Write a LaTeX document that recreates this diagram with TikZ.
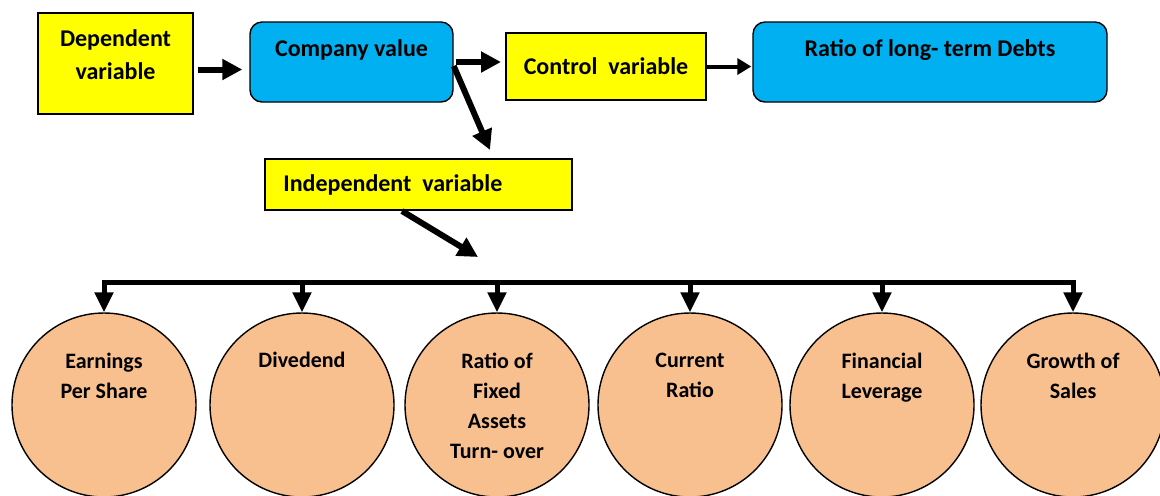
\documentclass[tikz,border=0pt]{standalone}
\usepackage{fontspec}
\setmainfont{Carlito}
\usetikzlibrary{arrows.meta}

\definecolor{skyblue}{HTML}{00B0F0}
\definecolor{peach}{HTML}{F8BF8F}
\definecolor{boxyellow}{HTML}{FFFF00}

\begin{document}
\begin{tikzpicture}[x=0.5pt,y=-0.5pt,
  ybox/.style={draw,line width=1pt,fill=boxyellow,inner sep=0pt},
  bbox/.style={draw,line width=0.7pt,fill=skyblue,rounded corners=6pt,inner sep=0pt},
  circ/.style={circle,draw,line width=0.7pt,fill=peach,minimum size=92pt,inner sep=0pt},
  lbl/.style={font=\bfseries\fontsize{12}{16.5}\selectfont,align=center,inner sep=0pt},
  clbl/.style={font=\bfseries\fontsize{11}{15}\selectfont,align=center,inner sep=0pt,
    anchor=north,execute at begin node=\strut},
  fat/.style={line width=3pt,-{Triangle[length=10pt,width=10pt]}},
  slim/.style={line width=2pt,-{Triangle[length=7pt,width=8pt]}},
  drop/.style={line width=2.5pt,-{Triangle[length=10pt,width=9pt]}}]
\useasboundingbox (0,0) rectangle (1160,495);

% top row
\node[ybox,minimum width=77.5pt,minimum height=50.5pt] (dep) at (115.5,63.5) {};
\node[lbl] (dep-t) at (115.5,54.5) {Dependent\\variable};

\node[bbox,minimum width=101.5pt,minimum height=40pt] (value) at (351.5,62) {};
\node[lbl] (value-t) at (351.5,50) {Company value};

\node[ybox,lbl,minimum width=100pt,minimum height=33.5pt] (ctrl) at (606,66.5) {Control\ \ variable};

\node[bbox,minimum width=177pt,minimum height=40pt] (ratio) at (930,62) {};
\node[lbl] (ratio-t) at (930,50) {Ratio of long- term Debts};

\node[ybox,minimum width=153.5pt,minimum height=25.5pt] (ind) at (418.5,184.5) {};
\node[lbl,anchor=west] (ind-t) at (283,185) {Independent\ \ variable};

\draw[fat,shorten <=2pt,shorten >=3.5pt] ([yshift=-3pt]dep.east) -- ([yshift=-3pt]dep.east -| value.west);
\draw[fat,shorten <=1pt,shorten >=2pt] (value.east) -- (value.east -| ctrl.west);
\draw[slim,shorten >=0.5pt] (ctrl.east) -- (ctrl.east -| ratio.west);

\coordinate (indtop) at (490,150);
\draw[fat] ([yshift=-2pt]value.east) -- (indtop);
\coordinate (busin) at (478,257);
\draw[fat] (ind.south -| 402,0) -- (busin);

% bottom row
\node[circ] (eps) at (104,405) {};
\node[clbl] (eps-t) at (104,353) {Earnings\\Per Share};
\node[circ] (div) at (302,405) {};
\node[clbl] (div-t) at (302,346) {Divedend};
\node[circ] (fixed) at (497,405) {};
\node[clbl] (fixed-t) at (497,353) {Ratio of\\Fixed\\Assets\\Turn- over};
\node[circ] (cur) at (690,405) {};
\node[clbl] (cur-t) at (690,353) {Current\\Ratio};
\node[circ] (lev) at (882,405) {};
\node[clbl] (lev-t) at (882,353) {Financial\\Leverage};
\node[circ] (gro) at (1073,405) {};
\node[clbl] (gro-t) at (1073,353) {Growth of\\Sales};

\coordinate (bus) at (0,282);
\draw[line width=2.5pt,line cap=rect] (eps.north |- bus) -- (gro.north |- bus);
\foreach \c in {eps,div,fixed,cur,lev,gro}
  \draw[drop] (\c.north |- bus) -- (\c.north);
\end{tikzpicture}
\end{document}
